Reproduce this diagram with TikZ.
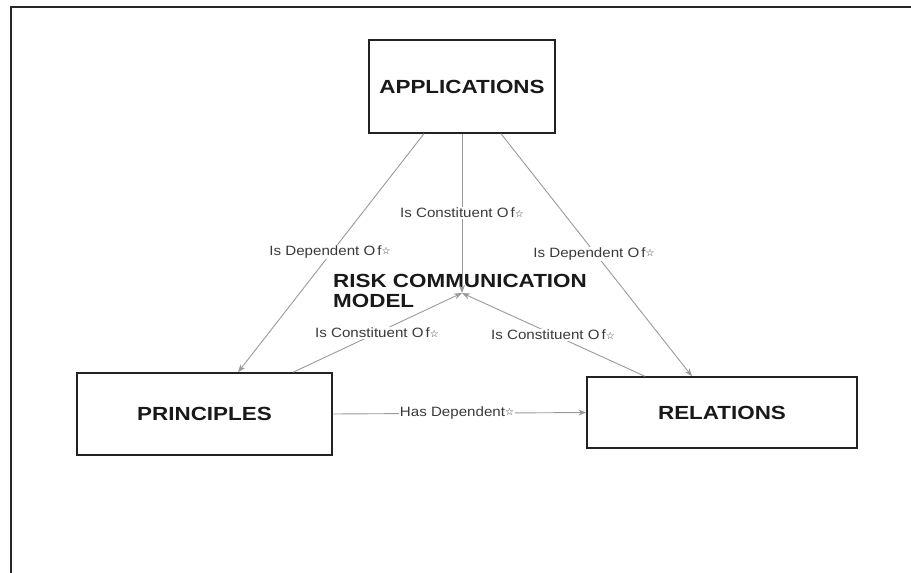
\documentclass[tikz,border=0pt]{standalone}
\usepackage{fontspec}
\setmainfont{Liberation Sans}
\newfontfamily\boxfont{Liberation Sans}[FakeStretch=1.18]
\newfontfamily\linkfont{Liberation Sans}[FakeStretch=1.12]
\newfontfamily\symfont{DejaVu Sans}
\usetikzlibrary{arrows.meta}
% "Of" with the small star glyph that trails each link name
\newcommand{\ofstar}{O\kern2pt f\raisebox{0.5pt}{\symfont\fontsize{10}{10}\selectfont ☆}}
\newcommand{\tstar}{t\raisebox{0.5pt}{\symfont\fontsize{10}{10}\selectfont ☆}}
\definecolor{linkgray}{HTML}{9A9A9A}
\definecolor{labelgray}{HTML}{3A3A3A}
\definecolor{boxline}{HTML}{222222}
\tikzset{
  concept/.style={draw=boxline, line width=1.4pt, fill=white, inner sep=0pt,
    font=\boxfont\bfseries\fontsize{19}{22}\selectfont, text=black!90},
  link/.style={draw=linkgray, line width=0.9pt,
    -{Stealth[length=8pt,width=6pt]}},
  linklabel/.style={fill=white, inner sep=1pt, text=labelgray,
    font=\linkfont\fontsize{13.5}{15}\selectfont},
  frameline/.style={draw=black!85, line width=1.8pt}
}
\begin{document}
\begin{tikzpicture}[x=1pt, y=-1pt]
  \useasboundingbox (0,0) rectangle (911,573);
  % outer frame (top and left edges only)
  \coordinate (fbl) at (11,573);
  \coordinate (ftl) at (11,7);
  \coordinate (ftr) at (911,7);
  \draw[frameline] (fbl) -- (ftl) -- (ftr);

  % concept boxes
  \node[concept, minimum width=186pt, minimum height=93pt] (app) at (462,86.5) {APPLICATIONS};
  \node[concept, minimum width=255pt, minimum height=82pt] (prin) at (204.5,414) {PRINCIPLES};
  \node[concept, minimum width=270pt, minimum height=71pt] (rel) at (722,412.5) {RELATIONS};

  % central concept
  \coordinate (hub) at (462,293);
  \node[anchor=north west, align=left, inner sep=0pt,
        font=\boxfont\bfseries\fontsize{19}{20.5}\selectfont, text=black!90] (title)
        at (333,274) {RISK COMMUNICATION\\MODEL};

  % links
  \draw[link] ([xshift=-38pt]app.south) -- ([xshift=33.5pt]prin.north);
  \draw[link] ([xshift=39pt]app.south) -- ([xshift=-30pt]rel.north);
  \draw[link] (app.south) -- (hub);
  \draw[link] ([xshift=88.5pt]prin.north) -- (hub);
  \draw[link] ([xshift=-77pt]rel.north) -- (hub);
  \draw[link] (prin.east) -- (rel.west);

  % link labels
  \node[linklabel] (l1) at (330,252) {Is Dependent \ofstar};
  \node[linklabel] (l2) at (462,213) {Is Constituent \ofstar};
  \node[linklabel] (l3) at (594,254) {Is Dependent \ofstar};
  \node[linklabel] (l4) at (377,333) {Is Constituent \ofstar};
  \node[linklabel] (l5) at (553,335) {Is Constituent \ofstar};
  \node[linklabel] (l6) at (457,413) {Has Dependen\tstar};
\end{tikzpicture}
\end{document}
